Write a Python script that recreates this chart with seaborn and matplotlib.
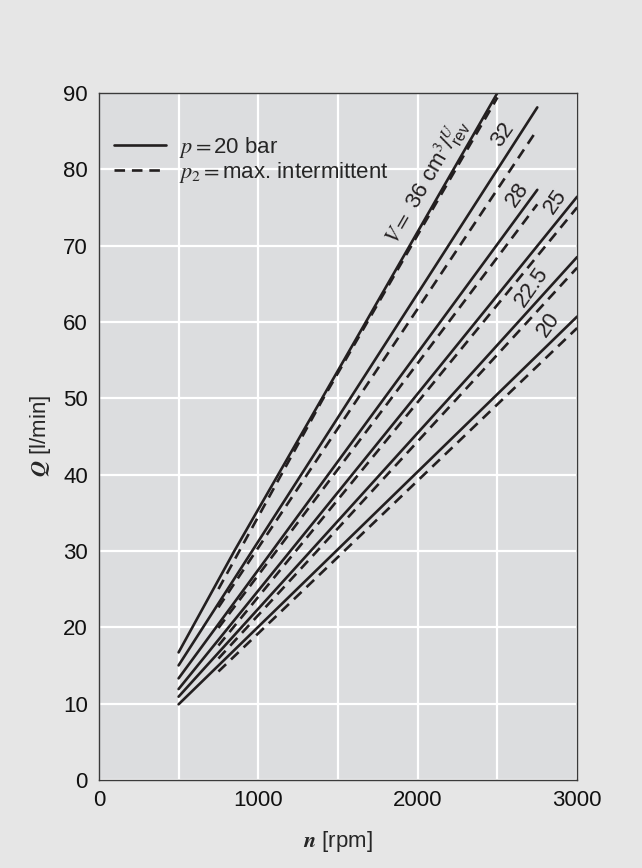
import numpy as np
import pandas as pd
import matplotlib
matplotlib.use("Agg")
import matplotlib.pyplot as plt
import seaborn as sns
from matplotlib.lines import Line2D

# displacement of each curve (cm3/rev) and the read-off start / end points
displacements = ["36", "32", "28", "25", "22.5", "20"]
speed_start_solid = [500, 500, 500, 500, 500, 500]
speed_start_dashed = [750, 750, 750, 750, 750, 750]
speed_end = [2500, 2750, 2750, 3000, 3000, 3000]
flow_start_solid = [16.7, 15.0, 13.3, 11.9, 10.9, 9.9]
flow_end_solid = [90.0, 88.1, 77.3, 76.4, 68.5, 60.7]
flow_start_dashed = [25.0, 22.6, 19.9, 17.6, 15.9, 14.2]
flow_end_dashed = [89.4, 85.2, 75.4, 75.0, 67.1, 59.2]
# the 36 curves bend a little, extra points read along them
curve36_speed = [850, 1400, 1950]
curve36_flow_solid = [30.0, 50.0, 70.0]
curve36_flow_dashed = [None, 49.7, 69.6]

legend_solid = "$p=$20 bar"
legend_dashed = "$p_2=$max. intermittent"

rows = []
for i, v in enumerate(displacements):
    ns = [speed_start_solid[i]] + (curve36_speed if v == "36" else []) + [speed_end[i]]
    qs = [flow_start_solid[i]] + (curve36_flow_solid if v == "36" else []) + [flow_end_solid[i]]
    for n, q in zip(ns, qs):
        rows.append({"n": n, "Q": q, "V": v, "kind": "solid"})
    rows.append({"n": speed_start_dashed[i], "Q": flow_start_dashed[i], "V": v, "kind": "dashed"})
    if v == "36":
        for n, q in zip(curve36_speed, curve36_flow_dashed):
            if q is not None:
                rows.append({"n": n, "Q": q, "V": v, "kind": "dashed"})
    rows.append({"n": speed_end[i], "Q": flow_end_dashed[i], "V": v, "kind": "dashed"})
df = pd.DataFrame(rows)

sns.set_theme(style="darkgrid")
plt.rcParams["font.family"] = ["Liberation Sans", "DejaVu Sans"]
plt.rcParams["mathtext.fontset"] = "stix"

ink = "#231f20"
fs = 16
fig = plt.figure(figsize=(6.42, 8.68), dpi=100, facecolor="#e6e6e6")
ax = fig.add_axes([0.154, 0.1015, 0.745, 0.7915])
ax.set_facecolor("#dcdddf")

sns.lineplot(data=df, x="n", y="Q", units="V", style="kind", estimator=None,
             dashes={"solid": "", "dashed": (4, 2.6)}, color=ink, linewidth=1.9,
             legend=False, ax=ax, sort=False)
for ln in ax.get_lines():
    ln.set_dash_capstyle("butt")

ax.set_xlim(0, 3000)
ax.set_ylim(0, 90)
ax.set_xticks([0, 1000, 2000, 3000])
ax.set_xticks([500, 1500, 2500], minor=True)
ax.set_yticks(range(0, 91, 10))
ax.grid(True, which="both", color="white", linewidth=1.6)
ax.tick_params(length=0, labelsize=fs, colors="#111111")
ax.tick_params(axis="x", pad=7)
ax.tick_params(axis="y", pad=8)
for s in ax.spines.values():
    s.set_visible(True)
    s.set_color("#3a3a3a")
    s.set_linewidth(1.0)

ax.set_xlabel("$\\mathbfit{n}$ [rpm]", fontsize=fs, labelpad=13)
ax.set_ylabel("$\\mathbfit{Q}$ [l/min]", fontsize=fs, labelpad=7)

handles = [Line2D([], [], color=ink, lw=1.9),
           Line2D([], [], color=ink, lw=1.9, dashes=(4, 2.6))]
ax.legend(handles, [legend_solid, legend_dashed], loc="upper left",
          bbox_to_anchor=(0.0, 0.962), frameon=False, fontsize=fs,
          handlelength=2.3, handletextpad=0.6, labelspacing=0.02,
          borderaxespad=0.3)

# curve labels
ax.text(2059, 78.4, "$V=$ 36 cm$^3$/$^{U}_{\\mathregular{rev}}$", rotation=60,
        ha="center", va="center", rotation_mode="anchor", fontsize=fs, color=ink)
label_pos = {"32": (2536, 84.5), "28": (2624, 76.7), "25": (2862, 75.8),
             "22.5": (2718, 64.6), "20": (2818, 59.6)}
for v, (x, y) in label_pos.items():
    ax.text(x, y, v, rotation=55, ha="center", va="center",
            rotation_mode="anchor", fontsize=fs, color=ink)

fig.savefig("out.png", dpi=100, facecolor=fig.get_facecolor())
